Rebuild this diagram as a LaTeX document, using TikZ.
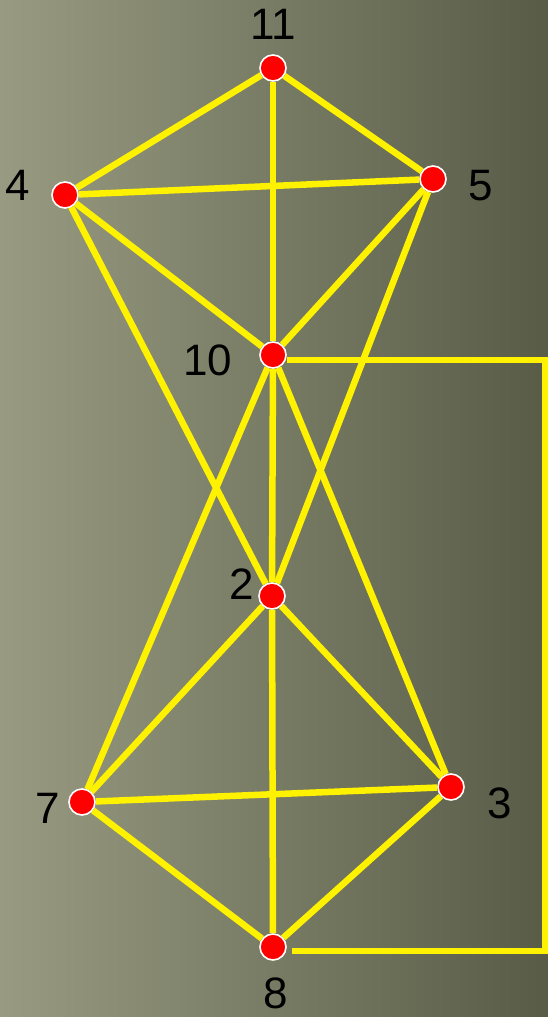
\documentclass[tikz,border=0pt]{standalone}
\usepackage{fontspec}
\setmainfont{Liberation Sans}
\definecolor{bgleft}{HTML}{989B81}
\definecolor{bgright}{HTML}{585C47}
\begin{document}
\begin{tikzpicture}[x=1pt, y=-1pt,
  vtx/.style={circle, fill=red, draw=white, line width=1.6pt, minimum size=26pt, inner sep=0pt},
  edge/.style={yellow, line width=6.5pt},
  lbl/.style={font=\fontsize{44}{44}\selectfont, inner sep=0pt}]
  \useasboundingbox (0,0) rectangle (548,1017);
  \shade[left color=bgleft, right color=bgright] (0,0) rectangle (548,1017);
  % vertices
  \node[vtx] (n11) at (273,68) {};
  \node[vtx] (n4) at (65,195) {};
  \node[vtx] (n5) at (433,179) {};
  \node[vtx] (n10) at (273,355) {};
  \node[vtx] (n2) at (272,596) {};
  \node[vtx] (n7) at (82,802) {};
  \node[vtx] (n3) at (451,787) {};
  \node[vtx] (n8) at (273,947) {};
  % edges
  \draw[edge] (n11) -- (n4);
  \draw[edge] (n11) -- (n5);
  \draw[edge] (n11) -- (n10);
  \draw[edge] (n4) -- (n5);
  \draw[edge] (n4) -- (n10);
  \draw[edge] (n4) -- (n2);
  \draw[edge] (n5) -- (n10);
  \draw[edge] (n5) -- (n2);
  \draw[edge] (n10) -- (n2);
  \draw[edge] (n10) -- (n7);
  \draw[edge] (n10) -- (n3);
  \draw[edge] (n2) -- (n7);
  \draw[edge] (n2) -- (n3);
  \draw[edge] (n2) -- (n8);
  \draw[edge] (n7) -- (n3);
  \draw[edge] (n7) -- (n8);
  \draw[edge] (n3) -- (n8);
  \coordinate (rt) at (545,360);
  \coordinate (rb) at (545,951);
  \draw[edge, shorten >=5pt] (n10.east |- rt) -- (rt) -- (rb) -- (n8.east |- rb);
  % labels
  \node[lbl] (l11) at (273,24) {11};
  \node[lbl] (l4) at (18,185) {4};
  \node[lbl] (l5) at (481,186) {5};
  \node[lbl] (l10) at (208,360) {10};
  \node[lbl] (l2) at (242,584) {2};
  \node[lbl] (l7) at (48,808) {7};
  \node[lbl] (l3) at (500,803) {3};
  \node[lbl] (l8) at (276,993) {8};
\end{tikzpicture}
\end{document}
